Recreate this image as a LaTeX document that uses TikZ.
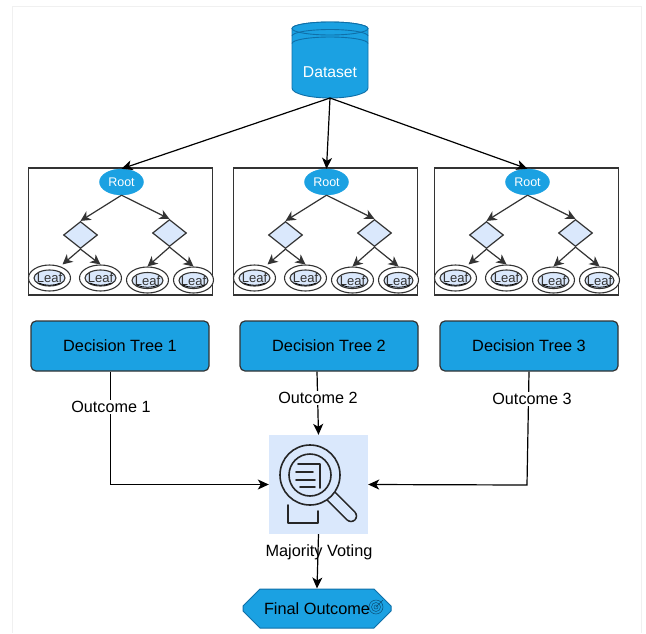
\documentclass[tikz,border=0pt]{standalone}
\usepackage{fontspec}
\setmainfont{Liberation Sans}
\usetikzlibrary{arrows.meta,shapes.geometric,shapes.misc}
\definecolor{cyanfill}{HTML}{1BA1E2}
\definecolor{cyanline}{HTML}{0F6FA8}
\definecolor{paleblue}{HTML}{DAE8FC}
\definecolor{inkline}{HTML}{333333}
\newcommand{\fs}[1]{\fontsize{#1}{#1}\selectfont}
\newcommand{\leaftext}{\smash{\makebox[0pt]{\raisebox{-4.5pt}{Leaf}}}}
\tikzset{
  conn/.style={draw=black,line width=1.2pt,-{Stealth[length=11pt,width=10pt,inset=3pt]}},
  smallconn/.style={draw=inkline,line width=1.2pt,-{Stealth[length=10pt,width=10pt,inset=3pt]}},
  frame/.style={draw=inkline,line width=1.2pt,fill=white,minimum width=184pt,minimum height=127pt,inner sep=0pt},
  rootnode/.style={ellipse,fill=cyanfill,draw=cyanfill,minimum width=44pt,minimum height=26pt,inner sep=0pt,text=white,font=\fs{12.5}},
  choice/.style={diamond,fill=paleblue,draw=inkline,line width=1.2pt,minimum width=34pt,minimum height=27pt,inner sep=0pt},
  leafouter/.style={ellipse,draw=inkline,line width=1.1pt,fill=white,minimum width=42pt,minimum height=26pt,inner sep=0pt},
  leafinner/.style={ellipse,draw=inkline,line width=1.1pt,fill=paleblue,minimum width=31pt,minimum height=16pt,inner sep=0pt,text=inkline,font=\fs{13}},
  treebox/.style={rectangle,rounded corners=5pt,fill=cyanfill,draw=inkline,line width=1.2pt,minimum width=178pt,minimum height=50pt,inner sep=0pt,text=black,font=\fs{16.3}},
  tag/.style={fill=white,inner sep=1.5pt,text=black,font=\fs{16.2}},
  finalnode/.style={chamfered rectangle,chamfered rectangle xsep=11pt,chamfered rectangle ysep=11pt,fill=cyanfill,draw=cyanline,line width=1pt,minimum width=148pt,minimum height=39pt,inner sep=0pt,text=black,font=\fs{16.3}},
  scribble/.style={draw=black,line width=.8pt},
}
\newcommand{\leafmark}[2]{\draw[scribble] (#1-11,#2+5) .. controls (#1-4,#2+8) and (#1+4,#2+8) .. (#1+11,#2+5);}
\newcommand{\tree}[2]{%
  \node[frame] (box#1) at (120+#2,231.5) {};
  \node[rootnode] (root#1) at (121+#2,182) {Root};
  \node[choice] (dl#1) at (80+#2,235) {};
  \node[choice] (dr#1) at (169+#2,233) {};
  \node[leafouter] (a#1) at (49+#2,278) {};
  \node[leafinner] (ai#1) at (49+#2,278) {\leaftext};
  \leafmark{49+#2}{278}
  \node[leafouter] (b#1) at (100+#2,278) {};
  \node[leafinner] (bi#1) at (100+#2,278) {\leaftext};
  \leafmark{100+#2}{278}
  \node[leafouter] (c#1) at (147+#2,280) {};
  \node[leafinner] (ci#1) at (147+#2,280.5) {\leaftext};
  \leafmark{147+#2}{280}
  \node[leafouter,minimum width=40pt] (e#1) at (193+#2,280) {};
  \node[leafinner,minimum width=29pt] (ei#1) at (193+#2,280.5) {\leaftext};
  \leafmark{193+#2}{280}
  \draw[smallconn] (root#1.south) -- (dl#1.north);
  \draw[smallconn] (root#1.south) -- (dr#1.north);
  \draw[smallconn] (dl#1.south) -- ([xshift=13pt]a#1.north);
  \draw[smallconn] (dl#1.south) -- (b#1.north);
  \draw[smallconn] (dr#1.south) -- (c#1.north);
  \draw[smallconn] (dr#1.south) -- (e#1.north);
}
\begin{document}
\begin{tikzpicture}[x=1pt,y=-1pt]
\useasboundingbox (0,0) rectangle (646,633);
\fill[white] (0,0) rectangle (646,633);
\draw[draw=black!6,line width=1pt] (12,633) -- (12,6.5) -- (641,6.5) -- (641,633);

% dataset
\draw[fill=cyanfill,draw=cyanline,line width=.9pt]
  (292,28.5) arc[start angle=180,end angle=360,x radius=38,y radius=6.5] -- (368,88)
  arc[start angle=0,end angle=180,x radius=38,y radius=10] -- cycle;
\draw[fill=cyanfill,draw=cyanline,line width=.9pt] (330,28.5) ellipse[x radius=38,y radius=6.5];
\draw[draw=cyanline,line width=.9pt] (292,36) arc[start angle=180,end angle=360,x radius=38,y radius=6.5];
\draw[draw=cyanline,line width=.9pt] (292,43.5) arc[start angle=180,end angle=360,x radius=38,y radius=6.5];
\node[text=white,font=\fs{15.7}] (dstext) at (330,72) {Dataset};
\coordinate (dsb) at (330,98);

% trees
\tree{1}{0.5}
\tree{2}{205.5}
\tree{3}{406.5}

\draw[conn] (dsb) -- (root1.north);
\draw[conn] (dsb) -- (root2.north);
\draw[conn] (dsb) -- (root3.north);

% decision trees
\node[treebox] (t1) at (120,346) {Decision Tree 1};
\node[treebox] (t2) at (329,346) {Decision Tree 2};
\node[treebox] (t3) at (529,346) {Decision Tree 3};

% voting
\node[fill=paleblue,minimum width=99pt,minimum height=99pt,inner sep=0pt] (mv) at (318.5,484.5) {};
\draw[black!85,line width=12.5pt,line cap=round] (331,496) -- (351,516);
\draw[paleblue,line width=9.5pt,line cap=round] (331,496) -- (351,516);
\begin{scope}[draw=black!85,line width=1.6pt,line cap=round,line join=round]
  \draw[fill=paleblue] (310,475) circle[radius=30];
  \draw (310,475) circle[radius=21];
  \draw (296,472) -- (313,472);
  \draw (296,480) -- (315,480);
  \draw (300,487) -- (315,487);
  \draw (298,464) -- (320,464) -- (320,488);
  \draw (288,505) -- (288,523) -- (318,523) -- (318,511);
\end{scope}

\draw[conn] (t1.south -| 110.5,0) |- (mv.west);
\draw[conn] (t2.south -| 317,0) -- (mv.north);
\draw[conn] (t3.south) -- (527,485) -- (mv.east);

\node[tag] (o1) at (111,407) {Outcome 1};
\node[tag] (o2) at (318,398) {Outcome 2};
\node[tag] (o3) at (532,399) {Outcome 3};

\node[finalnode] (fin) at (317,608.5) {Final Outcome};
\draw[conn] (mv.south) -- (fin.north);
\node[inner sep=0pt,text=black,font=\fs{16.3}] (mvt) at (319,552) {Majority Voting};
\begin{scope}[draw=cyanline!70!black,line width=.5pt]
  \draw (376,607) circle[radius=7];
  \draw (376,607) circle[radius=4.5];
  \draw (376,607) circle[radius=2];
  \draw (376,607) -- (383,600);
\end{scope}
\end{tikzpicture}
\end{document}
